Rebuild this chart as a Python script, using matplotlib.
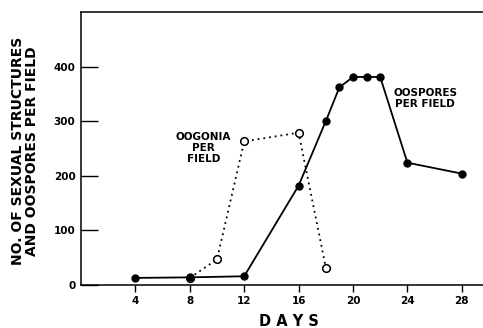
import matplotlib
matplotlib.use("Agg")
import matplotlib.pyplot as plt

oospore_days = [4, 8, 12, 16, 18, 19, 20, 21, 22, 24, 28]
oospore_vals = [13, 14, 16, 182, 300, 362, 381, 381, 381, 224, 204]
oogonia_days = [8, 10, 12, 16, 18]
oogonia_vals = [13, 47, 263, 279, 32]
xticks = [4, 8, 12, 16, 20, 24, 28]
yticks = [0, 100, 200, 300, 400]

plt.rcParams['font.family'] = ['DejaVu Sans']
fig = plt.figure(figsize=(4.83, 3.28), dpi=100)
W, H = 483, 328
l, r, t, b = 81, 489, 12, 285
ax = fig.add_axes([l / W, 1 - b / H, (r - l) / W, (b - t) / H])
ax.set_xlim(0, 30)
ax.set_ylim(0, 500)

ax.plot(oogonia_days, oogonia_vals, linestyle=(0, (1, 2.2)), color='black', lw=1.3,
        marker='o', ms=5.5, mfc='white', mec='black', mew=1.1, zorder=3)
ax.plot(oospore_days, oospore_vals, linestyle='-', color='black', lw=1.3,
        marker='o', ms=5, mfc='black', mec='black', zorder=4)

ax.set_xticks(xticks)
ax.set_yticks(yticks)
ax.tick_params(axis='y', direction='in', length=12, width=1, pad=4)
ax.tick_params(axis='x', direction='out', length=5, width=1, pad=3)
for lab in ax.get_xticklabels() + ax.get_yticklabels():
    lab.set_fontweight('bold')
    lab.set_fontsize(7.5)
for s in ax.spines.values():
    s.set_linewidth(1.1)

fig.text(289 / W, 1 - 321 / H, 'D A Y S', ha='center', va='center', fontsize=10.5,
         fontweight='bold')
fig.text(25 / W, 1 - 151 / H, 'NO. OF SEXUAL STRUCTURES\nAND OOSPORES PER FIELD',
         rotation=90, ha='center', va='center', fontsize=10, fontweight='bold',
         linespacing=1.05, multialignment='center')

ax.text(9.0, 251, 'OOGONIA\nPER\nFIELD', ha='center', va='center', fontsize=7.5,
        fontweight='bold', linespacing=1.1)
ax.text(25.3, 342, 'OOSPORES\nPER FIELD', ha='center', va='center', fontsize=7.5,
        fontweight='bold', linespacing=1.1)

fig.savefig('out.png', dpi=100)
